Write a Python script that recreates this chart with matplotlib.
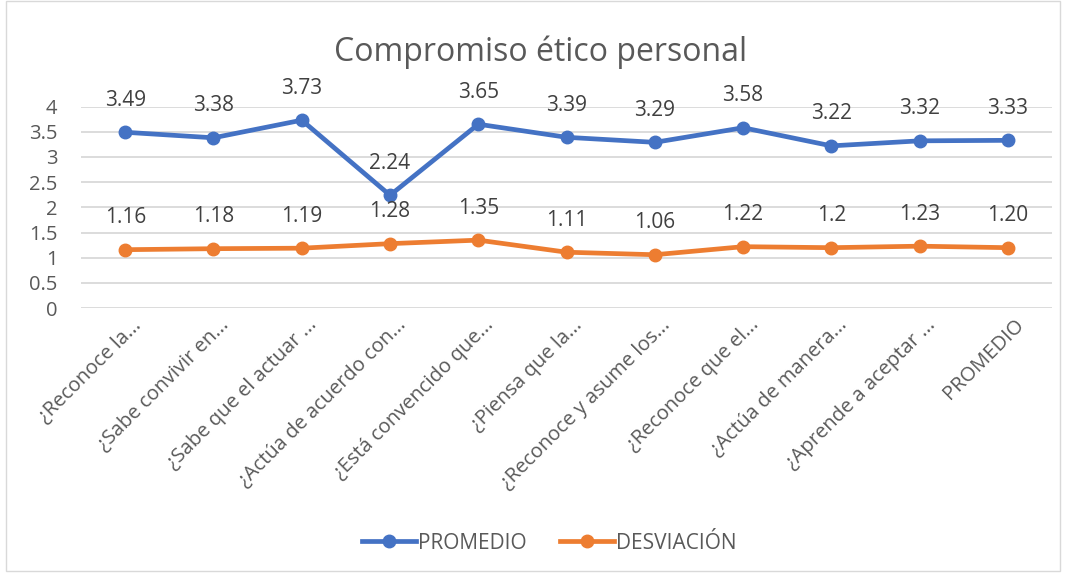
import matplotlib.pyplot as plt
import matplotlib.transforms as mtransforms
from matplotlib.patches import Rectangle

plt.rcParams["font.family"] = ["Open Sans", "DejaVu Sans"]

categories = [
    "¿Reconoce la...",
    "¿Sabe convivir en...",
    "¿Sabe que el actuar ...",
    "¿Actúa de acuerdo con...",
    "¿Está convencido que...",
    "¿Piensa que la...",
    "¿Reconoce y asume los...",
    "¿Reconoce que el...",
    "¿Actúa de manera...",
    "¿Aprende a aceptar ...",
    "PROMEDIO",
]
promedio = [3.49, 3.38, 3.73, 2.24, 3.65, 3.39, 3.29, 3.58, 3.22, 3.32, 3.33]
desviacion = [1.16, 1.18, 1.19, 1.28, 1.35, 1.11, 1.06, 1.22, 1.2, 1.23, 1.20]
promedio_labels = ["3.49", "3.38", "3.73", "2.24", "3.65", "3.39", "3.29", "3.58", "3.22", "3.32", "3.33"]
desviacion_labels = ["1.16", "1.18", "1.19", "1.28", "1.35", "1.11", "1.06", "1.22", "1.2", "1.23", "1.20"]

blue = "#4472C4"
orange = "#ED7D31"
text_col = "#595959"

fig = plt.figure(figsize=(10.67, 5.76), dpi=100)
ax = fig.add_axes([0.076, 0.465, 0.91, 0.35])

x = list(range(len(categories)))
ax.plot(x, promedio, color=blue, lw=3.4, marker="o", ms=9, label="PROMEDIO", zorder=3)
ax.plot(x, desviacion, color=orange, lw=3.4, marker="o", ms=9, label="DESVIACIÓN", zorder=3)

for xi, v, s in zip(x, promedio, promedio_labels):
    ax.annotate(s, (xi, v), xytext=(0, 23), textcoords="offset points",
                ha="center", va="center", fontsize=15, color="#404040")
for xi, v, s in zip(x, desviacion, desviacion_labels):
    ax.annotate(s, (xi, v), xytext=(0, 23), textcoords="offset points",
                ha="center", va="center", fontsize=15, color="#404040")

ax.set_xlim(-0.5, len(categories) - 0.5)
ax.set_ylim(0, 4)
ax.set_yticks([0, 0.5, 1, 1.5, 2, 2.5, 3, 3.5, 4])
ax.set_yticklabels(["0", "0.5", "1", "1.5", "2", "2.5", "3", "3.5", "4"])
ax.yaxis.grid(True, color="#D9D9D9", lw=1.3)
ax.set_axisbelow(True)
for s in ax.spines.values():
    s.set_visible(False)
ax.tick_params(axis="y", length=0, labelsize=14.5, labelcolor=text_col, pad=17)
ax.tick_params(axis="x", length=0, labelcolor=text_col, pad=5)
ax.set_xticks(x)
ax.set_xticklabels(categories, rotation=45, ha="right", rotation_mode="anchor", fontsize=14.5)
# nudge rotated labels a little to the right, like the original
shift = mtransforms.ScaledTranslation(4 / 72, 0, fig.dpi_scale_trans)
for lbl in ax.get_xticklabels():
    lbl.set_transform(lbl.get_transform() + shift)

fig.text(0.507, 0.91, "Compromiso ético personal", ha="center", va="center",
         fontsize=23, color=text_col)

leg = fig.legend(loc="center", bbox_to_anchor=(0.515, 0.057), ncol=2, frameon=False,
                 fontsize=15, labelcolor=text_col, handlelength=2.6, columnspacing=1.6,
                 handletextpad=0.1)

fig.patches.append(Rectangle((0.006, 0.008), 0.987, 0.99, transform=fig.transFigure,
                             fill=False, edgecolor="#D9D9D9", lw=1))

fig.savefig("out.png", dpi=100)
